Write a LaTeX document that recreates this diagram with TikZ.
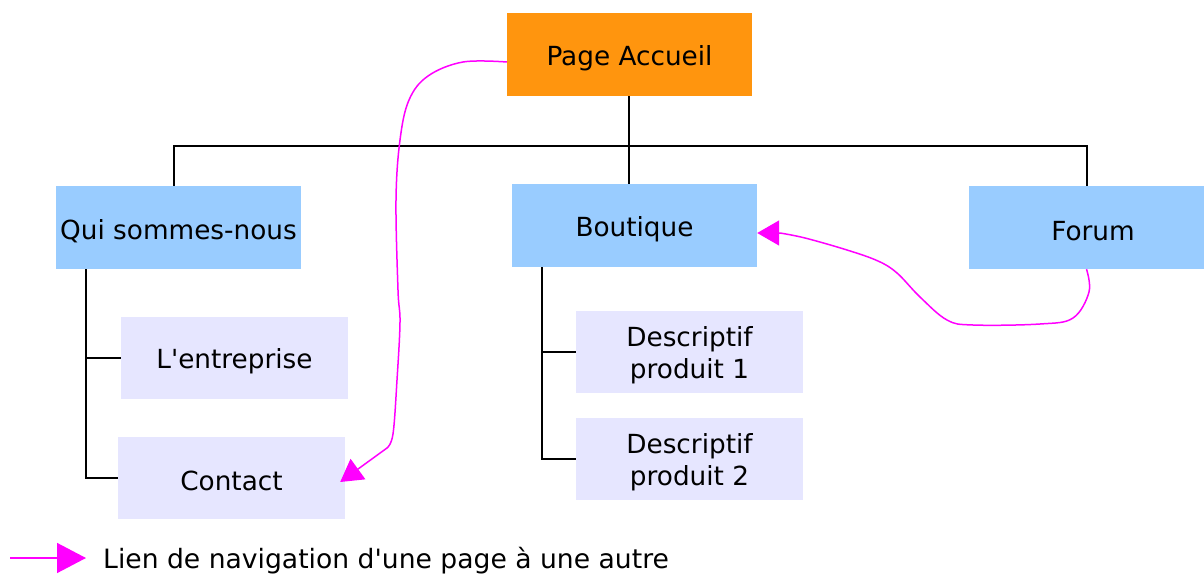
\documentclass[tikz,border=0pt]{standalone}
\usepackage{fontspec}
\setmainfont{DejaVu Sans}[Ligatures=TeXOff]
\usetikzlibrary{arrows.meta}
\definecolor{orangeA}{HTML}{FF950E}
\definecolor{blueB}{HTML}{99CCFF}
\definecolor{lavC}{HTML}{E6E6FF}
\definecolor{mag}{HTML}{FF00FF}
\begin{document}
\begin{tikzpicture}[x=1pt,y=-1pt,
 lab/.style={inner sep=0pt, align=center, font=\fontsize{26.3}{32}\selectfont, text=black, yshift=-3.5pt},
 box/.style={inner sep=0pt},
 pbox/.style={box, fill=orangeA, minimum width=245pt, minimum height=83pt},
 bbox/.style={box, fill=blueB, minimum width=245pt, minimum height=83pt},
 lbox/.style={box, fill=lavC, minimum width=227pt, minimum height=82pt},
 tree/.style={line width=2pt, black},
 nav/.style={line width=1.5pt, mag, -{Triangle[length=22pt,width=25pt]}},
 legendtext/.style={inner sep=0pt, anchor=west, font=\fontsize{26.6}{32}\selectfont}]
\useasboundingbox (0,0) rectangle (1204,575);
\fill[white] (0,0) rectangle (1204,575);

\node[pbox, label={[lab]center:Page Accueil}] (accueil) at (629.5,54.5) {};
\node[bbox, label={[lab]center:Qui sommes-nous}] (qui) at (178.5,227.5) {};
\node[bbox, label={[lab]center:Boutique}] (boutique) at (634.5,225.5) {};
\node[bbox, minimum width=235pt, label={[lab, xshift=6.5pt]center:Forum}] (forum) at (1086.5,227.5) {};
\node[lbox, label={[lab]center:L'entreprise}] (entreprise) at (234.5,357.5) {};
\node[lbox, label={[lab]center:Contact}] (contact) at (231.5,477.5) {};
\node[lbox, label={[lab]center:Descriptif\\produit 1}] (desc1) at (689.5,352) {};
\node[lbox, label={[lab]center:Descriptif\\produit 2}] (desc2) at (689.5,459) {};

% tree connectors
\coordinate (hub) at (629,146);
\draw[tree] (accueil.south -| hub) -- (hub);
\draw[tree] (hub) -- (boutique.north -| hub);
\draw[tree] ([xshift=-4.5pt]qui.north) |- (hub) -| (forum.north);
\draw[tree] ([xshift=30pt]qui.south west) |- (entreprise.west);
\draw[tree] ([xshift=30pt]qui.south west) |- (contact.west);
\draw[tree] ([xshift=30pt]boutique.south west) |- (desc1.west);
\draw[tree] ([xshift=30pt]boutique.south west) |- (desc2.west);

% navigation links
\draw[nav] plot[smooth, tension=0.6] coordinates {([yshift=-7.5pt]accueil.west) (463,62) (428,76) (409,100) (400,140) (396,200) (398,290) (400,322) (397,380) (393,434) (387,448)} -- ([xshift=-5pt,yshift=-4.5pt]contact.east);
\draw[nav] plot[smooth, tension=0.6] coordinates {(forum.south) (1089,292) (1073,318) (1040,324) (973,325) (947,320) (920,297) (897,273) (878,261) (847,250) (805,238) (780,233)} -- ([yshift=-7.5pt]boutique.east);

% legend
\coordinate (lg0) at (10,558);
\coordinate (lg1) at (86,558);
\draw[line width=1.5pt, mag, -{Triangle[length=29pt,width=30pt]}] (lg0) -- (lg1);
\node[legendtext] (legend) at (103,561) {Lien de navigation d'une page à une autre};
\end{tikzpicture}
\end{document}
